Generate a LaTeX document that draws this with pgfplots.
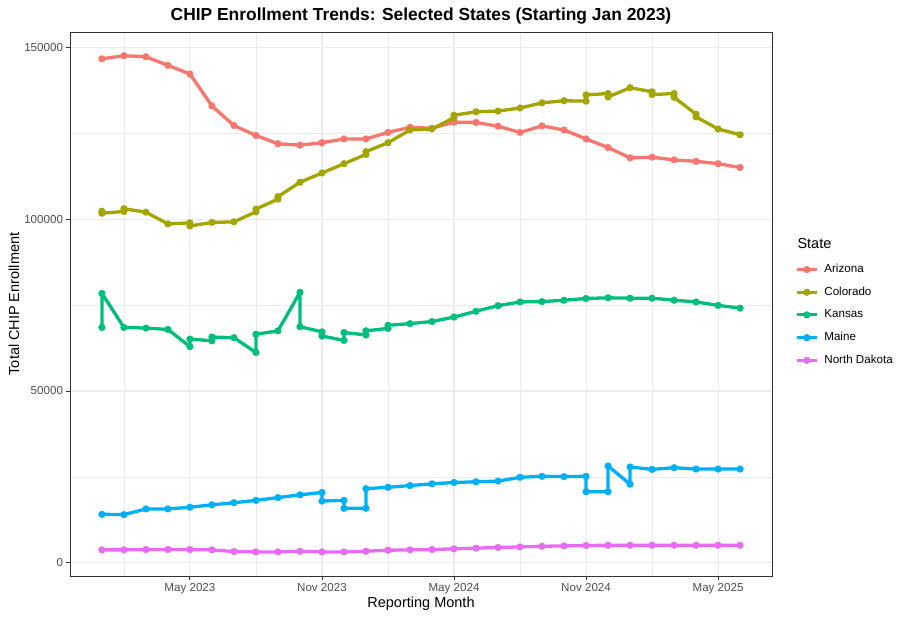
\documentclass[border=0pt]{standalone}
\usepackage{fontspec}
\setmainfont{Liberation Sans}
\usepackage{pgfplots}
\pgfplotsset{compat=1.18}
\definecolor{cAZ}{HTML}{F8766D}
\definecolor{cCO}{HTML}{A3A500}
\definecolor{cKS}{HTML}{00BF7D}
\definecolor{cME}{HTML}{00B0F6}
\definecolor{cND}{HTML}{E76BF3}
\definecolor{gridc}{HTML}{EBEBEB}
\definecolor{grayA}{HTML}{333333}
\definecolor{grayB}{HTML}{4D4D4D}
\pgfplotsset{
  state/.style={color=#1, line width=3.3pt, line join=round, mark=*,
    mark size=3.3pt, mark options={line width=0.5pt, fill=#1}}
}

\begin{document}
\begin{tikzpicture}
\begin{axis}[
  scale only axis, width=702pt, height=544pt,
  xmin=-1.45, xmax=30.45, ymin=-3800, ymax=154400,
  xtick={4,10,16,22,28},
  xticklabels={May 2023,Nov 2023,May 2024,Nov 2024,May 2025},
  minor xtick={1,7,13,19,25},
  ytick={0,50000,100000,150000},
  minor ytick={25000,75000,125000},
  scaled y ticks=false,
  y tick label style={/pgf/number format/.cd, fixed, precision=0, 1000 sep={}, assume math mode=true},
  grid=both,
  major grid style={line width=1.1pt, color=gridc},
  minor grid style={line width=0.55pt, color=gridc},
  minor tick length=0pt,
  major tick length=3.5pt,
  tick align=outside,
  tick pos=left,
  tick style={line width=0.9pt, color=grayA},
  axis line style={line width=0.8pt, color=grayA},
  tick label style={font=\fontsize{11.6}{13}\selectfont, color=grayB},
  title={CHIP Enrollment Trends: Selected States (Starting Jan 2023)},
  title style={at={(axis description cs:0.5,1)}, anchor=center, yshift=10pt,
    font=\bfseries\fontsize{17.4}{20}\selectfont},
  xlabel={Reporting Month},
  xlabel style={at={(axis description cs:0.5,-0.0515)}, anchor=center,
    font=\fontsize{14.5}{17}\selectfont},
  ylabel={Total CHIP Enrollment},
  ylabel style={at={(axis description cs:-0.0798,0.5)}, anchor=center,
    font=\fontsize{14.5}{17}\selectfont},
  legend style={at={(axis description cs:1.0330,0.5846)}, anchor=north west,
    draw=none, fill=none, inner sep=0pt, font=\fontsize{11.6}{13}\selectfont,
    cells={anchor=west},
    nodes={inner ysep=6.35pt, inner xsep=6pt, text height=8pt, text depth=2pt}},
  legend image code/.code={
    \draw[#1, line width=3pt] (0pt,0pt) -- (20pt,0pt);
    \draw[#1, mark size=3.3pt] plot coordinates {(10pt,0pt)};
  },
]
\addplot[state=cAZ] coordinates {
(0,146600)(1,147500)(2,147200)(3,144700)(4,142200)(5,132900)(6,127200)(7,124300)
(8,121900)(9,121500)(10,122200)(11,123300)(12,123300)(13,125200)(14,126700)(15,126400)
(16,128200)(17,128100)(18,127000)(19,125200)(20,127100)(21,125900)(22,123300)(23,120800)
(24,117800)(25,118000)(26,117200)(27,116800)(28,116100)(29,115000)};
\addplot[state=cCO] coordinates {
(0,102300)(0,101700)(1,102200)(1,103000)(2,102000)(3,98600)(4,98900)(4,98000)
(5,99000)(6,99200)(7,102100)(7,102900)(8,105800)(8,106500)(9,110700)(10,113400)
(11,116100)(12,118800)(12,119600)(13,122200)(14,125900)(15,126200)(16,129500)(16,130200)
(17,131200)(18,131400)(19,132300)(20,133800)(21,134400)(22,134300)(22,136100)(23,136500)
(23,135500)(24,138200)(25,137000)(25,136200)(26,136500)(26,135400)(27,130500)(27,129700)
(28,126200)(29,124500)};
\addplot[state=cKS] coordinates {
(0,68500)(0,78400)(1,68500)(2,68300)(3,67900)(4,62900)(4,65100)(5,64600)(5,65700)
(6,65500)(7,61200)(7,66500)(8,67500)(9,78700)(9,68700)(10,67200)(10,66000)(11,64700)
(11,67000)(12,66300)(12,67500)(13,68200)(13,69100)(14,69600)(15,70200)(16,71500)
(17,73200)(18,74800)(19,75900)(20,76000)(21,76400)(22,76900)(23,77100)(24,77000)
(25,77000)(26,76400)(27,75900)(28,74900)(29,74100)};
\addplot[state=cME] coordinates {
(0,14150)(1,14050)(2,15700)(3,15700)(4,16200)(5,16900)(6,17500)(7,18200)(8,19000)
(9,19800)(10,20500)(10,18000)(11,18200)(11,15900)(12,15900)(12,21600)(13,22000)
(14,22500)(15,23000)(16,23400)(17,23600)(18,23800)(19,24900)(20,25200)(21,25100)
(22,25200)(22,20700)(23,20700)(23,28200)(24,22900)(24,27900)(25,27200)(26,27700)
(27,27300)(28,27300)(29,27300)};
\addplot[state=cND] coordinates {
(0,3800)(1,3800)(2,3900)(3,3900)(4,3900)(5,3800)(6,3300)(7,3200)(8,3200)(9,3400)
(10,3200)(11,3200)(12,3400)(13,3700)(14,3800)(15,3900)(16,4100)(17,4300)(18,4500)
(19,4650)(20,4850)(21,4950)(22,5050)(23,5150)(24,5150)(25,5150)(26,5150)(27,5150)
(28,5150)(29,5150)};
\legend{Arizona,Colorado,Kansas,Maine,North Dakota}
\end{axis}
\node[anchor=west, font=\fontsize{14.5}{17}\selectfont] at (724pt,332pt) {State};
\pgfresetboundingbox
\path (-70pt,-43pt) rectangle (839pt,576pt);
\end{tikzpicture}
\end{document}
